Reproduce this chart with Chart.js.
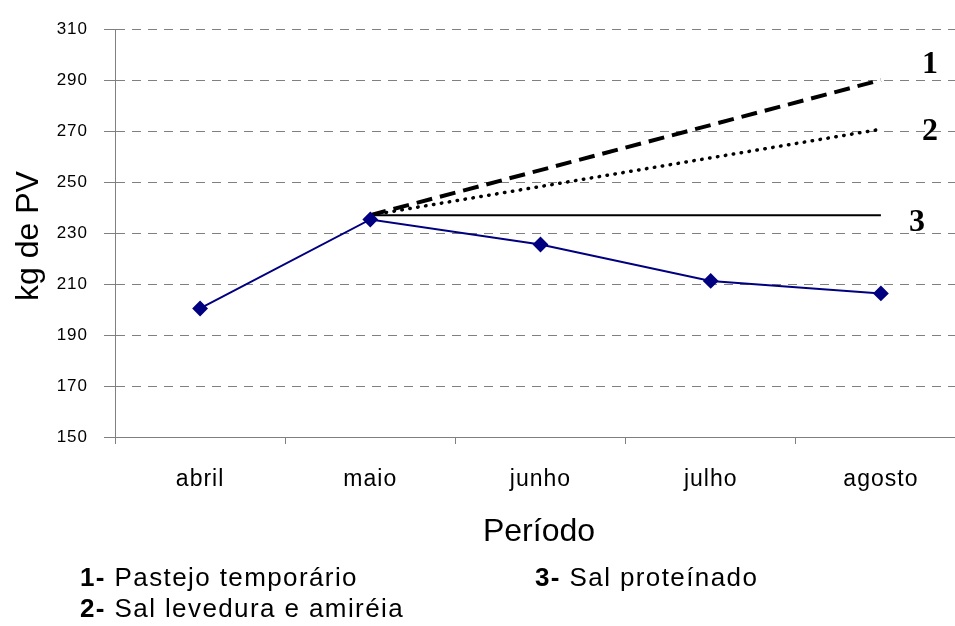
<!DOCTYPE html>
<html lang="pt">
<head>
<meta charset="utf-8">
<title>kg de PV por período</title>
<script src="https://cdn.jsdelivr.net/npm/chart.js@4.4.1/dist/chart.umd.min.js"></script>
<style>
  html, body { margin: 0; padding: 0; background: #fff; overflow: hidden; }
  canvas { display: block; }
</style>
</head>
<body>
<!-- o eixo x continua um pouco alem da borda direita da figura -->
<canvas id="grafico" width="966" height="626"></canvas>
<script>
// dados
const meses = ['abril', 'maio', 'junho', 'julho', 'agosto'];
const pesoObservado = [200.4, 235.3, 225.5, 211.2, 206.3];
const pastejoTemporario = [null, 237, null, null, 290];
const salLevedura = [null, 237, null, null, 270.7];
const salProteinado = [null, 237, null, null, 237];
const rotulosLinhas = ['1', '2', '3'];
const legendaItens = [
    ['1-', 'Pastejo temporário'],
    ['3-', 'Sal proteínado'],
    ['2-', 'Sal levedura e amiréia']
];
const tituloY = 'kg de PV';
const tituloX = 'Período';

const FONTE = "'Liberation Sans', Arial, sans-serif";
Chart.defaults.font.family = FONTE;
Chart.defaults.color = '#000';

const textosFigura = {
    id: 'textosFigura',
    beforeDraw(chart) {
        chart.ctx.letterSpacing = '1px';
    },
    afterDraw(chart) {
        const ctx = chart.ctx;
        const area = chart.chartArea;
        const sx = chart.scales.x;
        const sy = chart.scales.y;
        ctx.save();
        ctx.letterSpacing = '0px';
        ctx.fillStyle = '#000';

        // titulo eixo y
        ctx.save();
        ctx.translate(38, (area.top + area.bottom) / 2 + 3);
        ctx.rotate(-Math.PI / 2);
        ctx.font = '32px ' + FONTE;
        ctx.textAlign = 'center';
        ctx.textBaseline = 'alphabetic';
        ctx.fillText(tituloY, 0, 0);
        ctx.restore();

        // titulo eixo x
        ctx.font = '32px ' + FONTE;
        ctx.textAlign = 'center';
        ctx.textBaseline = 'alphabetic';
        ctx.fillText(tituloX, 539, 541);

        // numeros no fim das linhas
        const finais = [pastejoTemporario[4], salLevedura[4], salProteinado[4]];
        const desloc = [[49, -7], [49, 11], [36, 16]];
        ctx.font = 'bold 32px "Liberation Serif", "Times New Roman", serif';
        finais.forEach((v, i) => {
            const px = sx.getPixelForValue(4) + desloc[i][0];
            const py = sy.getPixelForValue(v) + desloc[i][1];
            ctx.fillText(rotulosLinhas[i], px, py);
        });

        // legenda
        const posLegenda = [[80, 586], [535, 586], [80, 617]];
        ctx.textAlign = 'left';
        ctx.letterSpacing = '1.4px';
        legendaItens.forEach((it, i) => {
            let [lx, ly] = posLegenda[i];
            ctx.font = 'bold 26px ' + FONTE;
            ctx.fillText(it[0], lx, ly);
            lx += ctx.measureText(it[0] + ' ').width;
            ctx.font = '26px ' + FONTE;
            ctx.fillText(it[1], lx, ly);
        });
        ctx.restore();
    }
};

const ctx = document.getElementById('grafico').getContext('2d');
new Chart(ctx, {
    type: 'line',
    data: {
        labels: meses,
        datasets: [
            {
                label: 'Peso observado',
                data: pesoObservado,
                borderColor: '#000080',
                backgroundColor: '#000080',
                borderWidth: 2,
                pointStyle: 'rectRot',
                pointRadius: 6.5,
                pointHoverRadius: 6.5,
                tension: 0
            },
            {
                label: 'Pastejo temporário',
                data: pastejoTemporario,
                borderColor: '#000',
                borderWidth: 4,
                borderDash: [16, 8],
                pointRadius: 0,
                spanGaps: true
            },
            {
                label: 'Sal levedura e amiréia',
                data: salLevedura,
                borderColor: '#000',
                borderWidth: 3.5,
                borderDash: [0.5, 7.5],
                borderCapStyle: 'round',
                pointRadius: 0,
                spanGaps: true
            },
            {
                label: 'Sal proteínado',
                data: salProteinado,
                borderColor: '#000',
                borderWidth: 2,
                pointRadius: 0,
                spanGaps: true
            }
        ]
    },
    options: {
        responsive: false,
        animation: false,
        devicePixelRatio: 1,
        layout: { autoPadding: false, padding: { top: 29, left: 0, right: 0, bottom: 0 } },
        scales: {
            x: {
                offset: true,
                grid: {
                    offset: true,
                    drawOnChartArea: false,
                    tickLength: 7,
                    tickColor: '#808080'
                },
                border: { color: '#808080', width: 1 },
                ticks: { font: { size: 23 }, padding: 22, maxRotation: 0 },
                afterFit: (scale) => { scale.height = 189; }
            },
            y: {
                min: 150,
                max: 310,
                grid: {
                    color: '#808080',
                    lineWidth: 1,
                    tickLength: 11,
                    tickColor: '#808080'
                },
                border: { color: '#808080', width: 1, dash: [9, 7] },
                ticks: { stepSize: 20, font: { size: 17 }, padding: 16 },
                afterFit: (scale) => { scale.width = 115; }
            }
        },
        plugins: {
            legend: { display: false },
            tooltip: { enabled: false }
        }
    },
    plugins: [textosFigura]
});
</script>
</body>
</html>
